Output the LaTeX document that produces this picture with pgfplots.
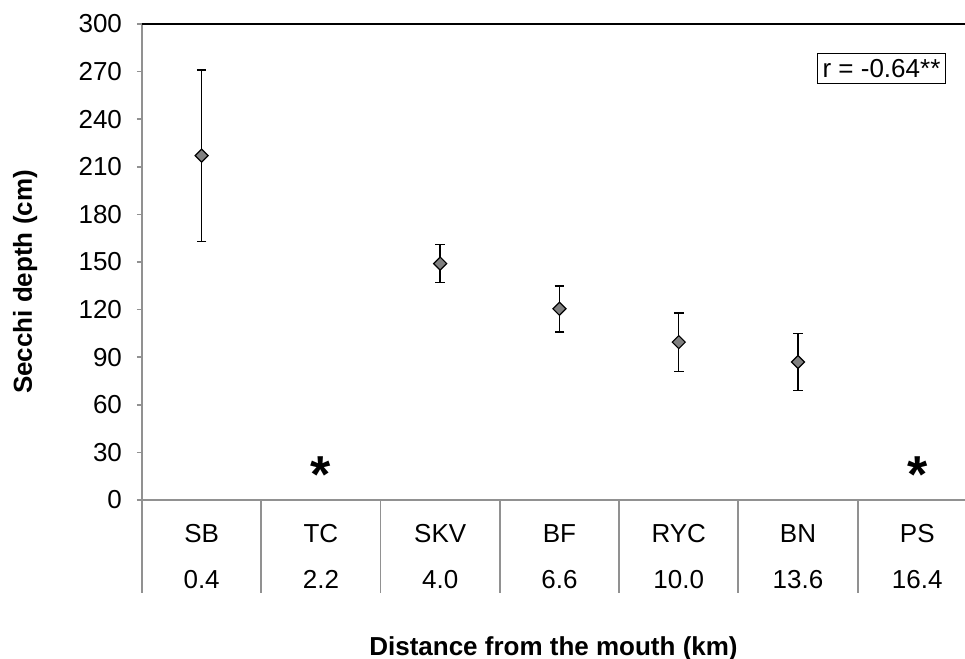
\documentclass[border=0pt]{standalone}
\usepackage{fontspec}
\setmainfont{Liberation Sans}
\usepackage{pgfplots}
\pgfplotsset{compat=1.18}
\definecolor{axisgray}{RGB}{145,145,145}
\definecolor{markgray}{RGB}{128,128,128}

\begin{document}
\begin{tikzpicture}
\useasboundingbox (0,0) rectangle (482.5pt,329.5pt);
\begin{axis}[
    at={(71pt,79.5pt)}, anchor=south west,
    scale only axis,
    width=411.5pt, height=238pt,
    xmin=-0.5, xmax=6.4,
    ymin=0, ymax=300,
    ytick={0,30,...,300},
    xtick={0,...,6},
    xticklabels={{SB\\[8pt]0.4},{TC\\[8pt]2.2},{SKV\\[8pt]4.0},{BF\\[8pt]6.6},{RYC\\[8pt]10.0},{BN\\[8pt]13.6},{PS\\[8pt]16.4}},
    axis x line*=bottom, axis y line*=left,
    axis line style={-, draw=axisgray, line width=0.9pt},
    tick align=outside,
    major tick length=2.5pt,
    ytick style={draw=axisgray, line width=0.8pt},
    xtick style={draw=none},
    /pgf/number format/assume math mode=true,
    tick label style={font=\fontsize{13}{15}\selectfont},
    yticklabel style={xshift=-4pt},
    xticklabel style={align=center, anchor=base, yshift=-42pt},
    xlabel={\textbf{Distance from the mouth (km)}},
    ylabel={\textbf{Secchi depth (cm)}},
    label style={font=\fontsize{13}{15}\selectfont},
    xlabel style={at={(axis description cs:0.5,-0.326)}, anchor=base},
    ylabel style={at={(axis description cs:-0.142,0.458)}, anchor=center, rotate=0},
    clip=false,
]
% separators of the category table below the axis
\pgfplotsinvokeforeach{-0.5,0.5,1.5,2.5,3.5,4.5,5.5}{
    \draw[axisgray, line width=0.9pt] (axis cs:#1,0) -- ([yshift=-46.5pt]axis cs:#1,0);
}
\draw[black, line width=0.6pt] (rel axis cs:0,1) -- (rel axis cs:1,1);

\addplot[
    only marks,
    mark=square*,
    mark size=2.3pt,
    mark options={rotate=45, fill=markgray, draw=black, line width=0.6pt},
    error bars/.cd,
    y dir=both, y explicit,
    error bar style={black, line width=0.75pt},
    error mark options={rotate=90, mark size=2.4pt, black, line width=0.75pt},
] coordinates {
    (0,217) +- (0,54)
    (2,149) +- (0,12)
    (3,120.5) +- (0,14.5)
    (4,99.5) +- (0,18.5)
    (5,87) +- (0,18)
};

\node[anchor=base, font=\fontsize{26}{26}\selectfont\bfseries] at (axis cs:1,4.5) {*};
\node[anchor=base, font=\fontsize{26}{26}\selectfont\bfseries] at (axis cs:6,4.5) {*};
\node[draw=black, line width=0.6pt, inner xsep=2.5pt, inner ysep=3pt,
      font=\fontsize{13}{15}\selectfont] at (axis cs:5.70,272) {r = -0.64**};
\end{axis}
\end{tikzpicture}
\end{document}
